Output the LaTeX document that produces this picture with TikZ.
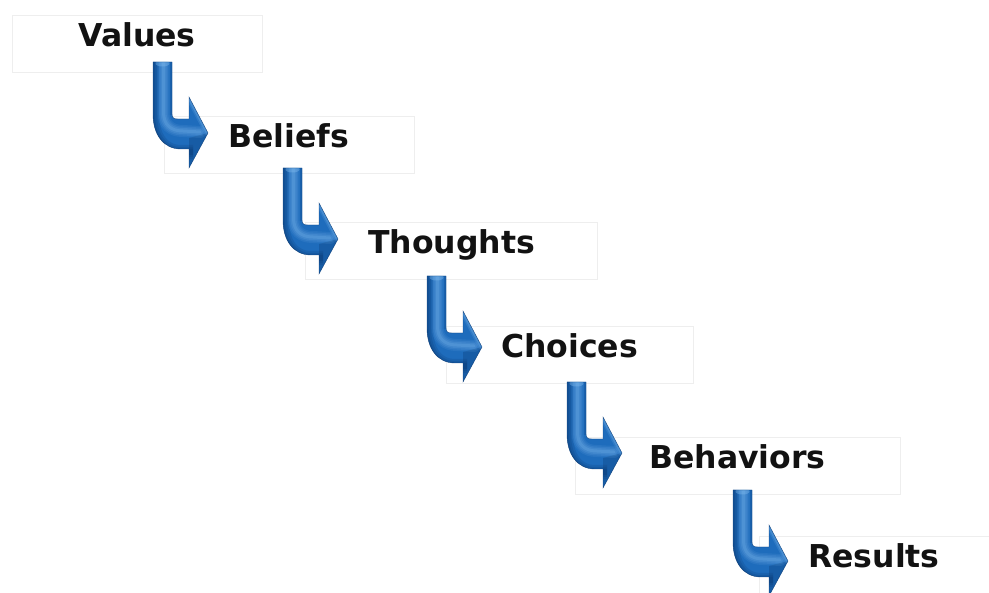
\documentclass[tikz,border=0pt]{standalone}
\usepackage{fontspec}
\setmainfont{DejaVu Sans}
\newfontfamily\labelfamily{DejaVu Sans}[BoldFont={DejaVu Sans Bold}]
\definecolor{tubemid}{RGB}{30,108,188}
\definecolor{tubedark}{RGB}{10,56,112}
\definecolor{tubelight}{RGB}{140,196,244}
\definecolor{framegray}{RGB}{238,238,238}
% outline of the bent arrow, origin at the top-left of the shaft, y pointing down
\newcommand{\tubeoutline}{(0,0) -- (19,0) -- (19,52) .. controls (19,56) and (21,57) .. (25,57)
  -- (36,57) -- (36,35) -- (55,71) -- (36,106) -- (36,87) -- (28,87)
  .. controls (10,87) and (0,72) .. (0,52) -- cycle}
% centre line of the tube, used for the soft highlight
\newcommand{\tubespine}{(10.5,1) -- (10.5,50) .. controls (10.5,63) and (18,69) .. (30,69) -- (47,70)}
\tikzset{
  lbl/.style={draw=framegray, line width=0.8pt, inner sep=0pt,
    minimum height=57pt, text height=22pt, text depth=15pt,
    font=\labelfamily\bfseries\fontsize{31.5}{37}\selectfont, text=black!93},
  pics/bentarrow/.style={code={
    \fill[tubemid] \tubeoutline;
    \begin{scope}
      \clip \tubeoutline;
      % shadow along the outer bend and the left side of the shaft
      \foreach \w/\o in {14/0.18, 10/0.2, 6/0.25} {
        \draw[tubedark, line width=\w pt, opacity=\o]
          (-1,0) -- (-1,52) .. controls (-1,75) and (10,90) .. (28,90) -- (40,90);
      }
      \foreach \w/\o in {6/0.2, 3/0.25} {
        \draw[tubedark, line width=\w pt, opacity=\o] (20,0) -- (20,53);
      }
      % shadow on the lower half of the head
      \fill[tubedark, opacity=0.3] (36,76) -- (55,71) -- (36,106) -- cycle;
      % soft gloss along the middle of the tube
      \foreach \w/\o in {12/0.1, 9/0.12, 6/0.15, 3/0.18} {
        \draw[tubelight, line width=\w pt, opacity=\o, line cap=round] \tubespine;
      }
      % bright upper edge of the head
      \foreach \w/\o in {6/0.15, 3/0.25} {
        \draw[tubelight, line width=\w pt, opacity=\o] (36,36) -- (55,72);
      }
      % lighter cap at the top of the shaft
      \fill[tubelight, opacity=0.35] (9.5,1.5) ellipse (7 and 3);
    \end{scope}
    \draw[tubedark, line width=0.4pt, opacity=0.8] \tubeoutline;
  }}
}
\begin{document}
\begin{tikzpicture}[x=1pt, y=-1pt]
  \useasboundingbox (0,0) rectangle (989,593);
  \fill[white] (0,0) rectangle (989,593);

  % labels, each in a faint frame
  \node[lbl, minimum width=250pt] (values)    at (137,43.5)   {Values};
  \node[lbl, minimum width=250pt] (beliefs)   at (289,144.5)  {Beliefs};
  \node[lbl, minimum width=292pt] (thoughts)  at (451.5,250.5) {Thoughts};
  \node[lbl, minimum width=247pt] (choices)   at (569.5,354.5) {Choices};
  \node[lbl, minimum width=325pt] (behaviors) at (737.5,465.5) {Behaviors};
  \node[lbl, minimum width=230pt] (results)   at (874,564.5)  {Results};

  % bent arrows leading from each label down to the next one
  \coordinate (a1) at (153,62);
  \coordinate (a2) at (283,168);
  \coordinate (a3) at (427,276);
  \coordinate (a4) at (567,382);
  \coordinate (a5) at (733,490);
  \foreach \c in {a1,a2,a3,a4,a5} {
    \pic at (\c) {bentarrow};
  }
\end{tikzpicture}
\end{document}
